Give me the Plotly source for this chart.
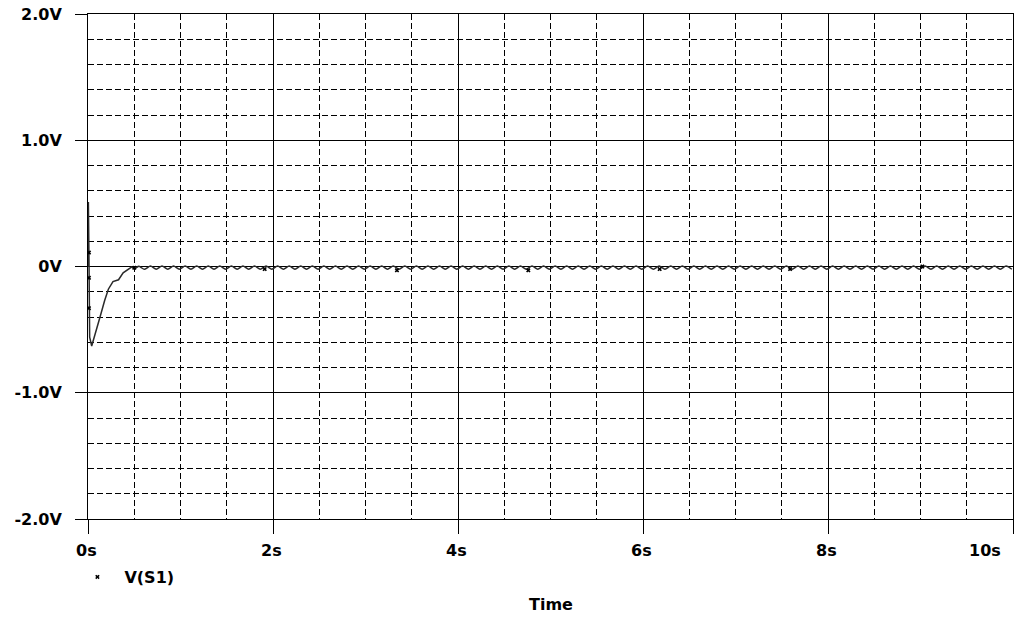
import plotly.graph_objects as go

# transient at start (time in s, voltage in V)
start_t = [0.0, 0.004, 0.007, 0.010, 0.013, 0.018, 0.040, 0.080, 0.130, 0.180,
           0.220, 0.270, 0.300, 0.330, 0.380, 0.440, 0.470, 0.510, 0.550]
start_v = [0.0, 0.51, 0.30, 0.10, -0.30, -0.56, -0.63, -0.52, -0.40, -0.27,
           -0.18, -0.12, -0.11, -0.105, -0.05, -0.02, -0.005, -0.015, 0.004]

# small steady-state ripple: crests and troughs
crest_t = [0.55, 0.675, 0.8, 0.925, 1.05, 1.175, 1.3, 1.425, 1.55, 1.675,
           1.8, 1.925, 2.05, 2.175, 2.3, 2.425, 2.55, 2.675, 2.8, 2.925,
           3.05, 3.175, 3.3, 3.425, 3.55, 3.675, 3.8, 3.925, 4.05, 4.175,
           4.3, 4.425, 4.55, 4.675, 4.8, 4.925, 5.05, 5.175, 5.3, 5.425,
           5.55, 5.675, 5.8, 5.925, 6.05, 6.175, 6.3, 6.425, 6.55, 6.675,
           6.8, 6.925, 7.05, 7.175, 7.3, 7.425, 7.55, 7.675, 7.8, 7.925,
           8.05, 8.175, 8.3, 8.425, 8.55, 8.675, 8.8, 8.925, 9.05, 9.175,
           9.3, 9.425, 9.55, 9.675, 9.8, 9.925]
crest_v = [0.004, 0.004, 0.004, 0.004, 0.004, 0.004, 0.004, 0.004, 0.004, 0.004,
           0.004, 0.004, 0.004, 0.004, 0.004, 0.004, 0.004, 0.004, 0.004, 0.004,
           0.004, 0.004, 0.004, 0.004, 0.004, 0.004, 0.004, 0.004, 0.004, 0.004,
           0.004, 0.004, 0.004, 0.004, 0.004, 0.004, 0.004, 0.004, 0.004, 0.004,
           0.004, 0.004, 0.004, 0.004, 0.004, 0.004, 0.004, 0.004, 0.004, 0.004,
           0.004, 0.004, 0.004, 0.004, 0.004, 0.004, 0.004, 0.004, 0.004, 0.004,
           0.004, 0.004, 0.004, 0.004, 0.004, 0.004, 0.004, 0.004, 0.004, 0.004,
           0.004, 0.004, 0.004, 0.004, 0.004, 0.004]
trough_t = [0.6125, 0.7375, 0.8625, 0.9875, 1.1125, 1.2375, 1.3625, 1.4875, 1.6125, 1.7375,
            1.8625, 1.9875, 2.1125, 2.2375, 2.3625, 2.4875, 2.6125, 2.7375, 2.8625, 2.9875,
            3.1125, 3.2375, 3.3625, 3.4875, 3.6125, 3.7375, 3.8625, 3.9875, 4.1125, 4.2375,
            4.3625, 4.4875, 4.6125, 4.7375, 4.8625, 4.9875, 5.1125, 5.2375, 5.3625, 5.4875,
            5.6125, 5.7375, 5.8625, 5.9875, 6.1125, 6.2375, 6.3625, 6.4875, 6.6125, 6.7375,
            6.8625, 6.9875, 7.1125, 7.2375, 7.3625, 7.4875, 7.6125, 7.7375, 7.8625, 7.9875,
            8.1125, 8.2375, 8.3625, 8.4875, 8.6125, 8.7375, 8.8625, 8.9875, 9.1125, 9.2375,
            9.3625, 9.4875, 9.6125, 9.7375, 9.8625, 9.9875]
trough_v = [-0.022, -0.022, -0.022, -0.022, -0.022, -0.022, -0.022, -0.022, -0.022, -0.022,
            -0.022, -0.022, -0.022, -0.022, -0.022, -0.022, -0.022, -0.022, -0.022, -0.022,
            -0.022, -0.022, -0.022, -0.022, -0.022, -0.022, -0.022, -0.022, -0.022, -0.022,
            -0.022, -0.022, -0.022, -0.022, -0.022, -0.022, -0.022, -0.022, -0.022, -0.022,
            -0.022, -0.022, -0.022, -0.022, -0.022, -0.022, -0.022, -0.022, -0.022, -0.022,
            -0.022, -0.022, -0.022, -0.022, -0.022, -0.022, -0.022, -0.022, -0.022, -0.022,
            -0.022, -0.022, -0.022, -0.022, -0.022, -0.022, -0.022, -0.022, -0.022, -0.022,
            -0.022, -0.022, -0.022, -0.022, -0.022, -0.022]

# trace markers (PSpice symbols)
marker_t = [0.01, 0.01, 0.01, 0.50, 1.91, 3.34, 4.76, 6.18, 7.59, 9.02]
marker_v = [0.11, -0.09, -0.33, -0.01, -0.02, -0.03, -0.03, -0.02, -0.02, 0.0]

x_ticks = [0, 2, 4, 6, 8, 10]
x_labels = ["0s", "2s", "4s", "6s", "8s", "10s"]
y_ticks = [-2, -1, 0, 1, 2]
y_labels = ["-2.0V", "-1.0V", "0V", "1.0V", "2.0V"]

FONT = dict(family="DejaVu Sans", size=16, color="black", weight="bold")
LINE = "#2a2a2a"

ripple_t, ripple_v = [], []
for a, b, c, d in zip(crest_t, crest_v, trough_t, trough_v):
  ripple_t += [a, c]
  ripple_v += [b, d]

fig = go.Figure()
fig.add_trace(go.Scatter(x=start_t, y=start_v, mode="lines",
                         line=dict(color=LINE, width=1.5), showlegend=False))
fig.add_trace(go.Scatter(x=ripple_t, y=ripple_v, mode="lines",
                         line=dict(color=LINE, width=1.5, shape="spline", smoothing=0.8),
                         showlegend=False))
fig.add_trace(go.Scatter(x=marker_t, y=marker_v, mode="markers", name="V(S1)",
                         marker=dict(symbol="x", size=4, color="black",
                                     line=dict(width=0))))

axis_common = dict(
  showline=True, linecolor="black", linewidth=1, mirror=True,
  showgrid=True, gridcolor="black", gridwidth=1, zeroline=False,
  ticks="outside", tickcolor="black", tickwidth=1, automargin=False,
)

fig.update_xaxes(
  range=[0, 10], tickvals=x_ticks, showticklabels=False, ticklen=14,
  minor=dict(dtick=0.5, showgrid=True, gridcolor="black", gridwidth=1, griddash="6px,3px"),
  **axis_common,
)
fig.update_yaxes(
  range=[-2, 2], tickvals=y_ticks, ticktext=y_labels, ticklen=12,
  tickfont=FONT, ticklabelstandoff=10,
  minor=dict(dtick=0.2, showgrid=True, gridcolor="black", gridwidth=1, griddash="6px,3px"),
  **axis_common,
)

for i, (xv, lab) in enumerate(zip(x_ticks, x_labels)):
  last = i == len(x_ticks) - 1
  fig.add_annotation(x=xv, y=0, xref="x", yref="paper", text=lab, showarrow=False,
                     font=FONT, xanchor="right" if last else "center", yanchor="top",
                     xshift=-10 if last else -2, yshift=-20)

fig.add_annotation(x=0.5, y=0, xref="paper", yref="paper", text="Time", showarrow=False,
                   font=FONT, xanchor="center", yanchor="middle", yshift=-85)

fig.update_layout(
  width=1024, height=620,
  margin=dict(l=88, r=11, t=14, b=101, autoexpand=False),
  plot_bgcolor="white", paper_bgcolor="white",
  font=FONT,
  showlegend=True,
  legend=dict(x=-0.019, y=-0.115, xanchor="left", yanchor="middle",
              orientation="h", itemwidth=44, font=FONT, bgcolor="rgba(0,0,0,0)"),
)

# drop the default page margin so the figure sits at the window's corner
fig.write_html("out.html", config={"displayModeBar": False},
               post_script="document.body.style.margin='0';")
